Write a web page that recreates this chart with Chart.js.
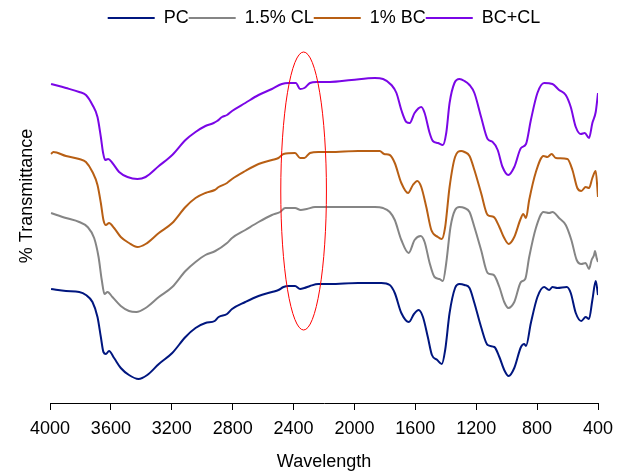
<!doctype html>
<html lang="en">
  <head>
    <meta charset="utf-8">
    <title>FTIR spectra</title>
    <script src="https://cdn.jsdelivr.net/npm/chart.js@4.4.1/dist/chart.umd.min.js"></script>
    <style>
      html, body { margin: 0; padding: 0; background: #fff; }
      #wrap { width: 617px; height: 474px; }
    </style>
  </head>
  <body>
    <div id="wrap"><canvas id="myChart"></canvas></div>
    <script>
      // wavenumber (cm-1) and offset transmittance (arbitrary units)
      const pcWave = [3993,3895,3808,3764,3721,3688,3666,3649,3633,3612,3579,3535,3481,3419,3361,3285,3197,3110,3044,2979,2918,2892,2837,2804,2717,2630,2542,2499,2466,2434,2390,2357,2329,2292,2237,2161,1976,1823,1768,1735,1692,1642,1609,1578,1550,1518,1491,1456,1426,1404,1375,1339,1310,1277,1244,1212,1168,1125,1081,1048,1016,987,950,906,885,873,841,798,754,721,699,667,605,579,546,510,481,459,437,415,400];
      const pcT = [114,112,111,108,101,86,66,51,49,52,45,35,28,24,28,39,50,66,75,80,82,86,89,94,101,107,111,113,116,117,117,114,115,117,119,119,120,120,118,110,90,81,89,93,86,66,48,43,39,53,90,115,119,118,115,100,76,58,56,46,33,27,35,56,59,57,80,106,116,113,116,115,116,110,90,82,86,84,103,122,108];

      const clWave = [3993,3895,3808,3753,3710,3681,3660,3642,3622,3590,3535,3481,3433,3372,3285,3197,3110,3044,2979,2914,2837,2804,2717,2630,2542,2488,2455,2390,2353,2313,2259,2161,1866,1812,1768,1735,1692,1644,1605,1565,1539,1506,1474,1441,1419,1397,1369,1339,1310,1277,1244,1212,1168,1125,1085,1048,1016,989,950,906,878,852,808,758,721,699,656,612,575,540,510,481,459,442,426,420,409,400];
      const clT = [190,185,181,176,165,146,123,109,111,106,97,92,91,95,106,116,132,141,148,152,160,165,173,181,188,191,195,195,193,194,196,196,196,195,191,183,163,150,163,167,161,140,126,124,122,140,176,193,196,195,191,176,153,130,128,116,101,95,101,121,124,146,175,191,190,191,185,178,163,143,139,140,134,143,148,152,145,141];

      const bcWave = [3993,3978,3895,3808,3764,3721,3688,3666,3649,3633,3612,3579,3535,3481,3426,3372,3285,3197,3110,3044,2979,2918,2892,2837,2804,2717,2630,2542,2499,2466,2390,2357,2329,2292,2237,2161,1976,1834,1805,1768,1735,1692,1648,1616,1587,1561,1528,1495,1452,1426,1404,1375,1339,1299,1277,1244,1212,1168,1125,1085,1048,1016,987,950,911,891,873,852,808,758,732,705,677,601,568,536,510,481,459,437,415,400];
      const bcT = [249,251,247,244,241,231,218,200,183,178,180,175,166,160,156,159,170,180,196,205,210,213,216,220,224,232,239,243,245,249,250,245,245,250,251,251,252,252,249,248,240,220,210,218,222,216,196,173,166,164,176,216,246,252,251,247,233,210,188,186,176,165,159,166,183,189,185,203,231,247,246,249,245,244,233,215,212,216,215,225,232,206];

      const bcClWave = [3993,3895,3808,3764,3721,3688,3666,3651,3638,3618,3590,3546,3491,3426,3372,3285,3197,3110,3044,2979,2925,2902,2870,2837,2804,2717,2630,2542,2477,2434,2385,2357,2329,2292,2248,2161,2019,1866,1812,1757,1724,1692,1659,1637,1605,1561,1539,1506,1485,1452,1419,1397,1375,1343,1310,1277,1244,1212,1168,1125,1092,1059,1027,989,950,906,873,841,798,754,699,656,612,579,546,513,487,459,437,415,400];
      const bcClT = [319,315,311,308,298,286,266,250,243,244,240,231,226,224,226,237,248,263,271,277,280,282,286,288,292,300,308,314,319,320,320,314,315,320,321,321,323,325,324,318,310,293,281,280,290,296,290,270,262,260,258,270,300,320,324,322,318,310,286,264,261,253,236,228,236,255,259,283,310,320,319,313,308,296,276,269,270,265,280,291,310];

      const seriesNames = ['PC', '1.5% CL', '1% BC', 'BC+CL'];
      const xTicksMin = 400;
      const xTicksMax = 4000;
      const xTickStep = 400;

      // highlighted region (red ellipse), in data units
      const ellipseCenter = [2334, 212];
      const ellipseRadius = [150, 139];

      Chart.defaults.font.family = "'Liberation Sans', Arial, sans-serif";
      Chart.defaults.font.size = 18;
      Chart.defaults.color = '#000';

      const toPoints = (wave, t) => wave.map((w, i) => ({ x: w, y: t[i] }));

      const line = (label, wave, t, color) => ({
        label,
        data: toPoints(wave, t),
        borderColor: color,
        backgroundColor: color,
        borderWidth: 2,
        pointRadius: 0,
        fill: false,
        cubicInterpolationMode: 'monotone'
      });

      const ellipsePlugin = {
        id: 'ellipse',
        afterDatasetsDraw(chart) {
          const { ctx, scales: { x, y } } = chart;
          const cx = x.getPixelForValue(ellipseCenter[0]);
          const cy = y.getPixelForValue(ellipseCenter[1]);
          const rx = Math.abs(x.getPixelForValue(ellipseCenter[0] + ellipseRadius[0]) - cx);
          const ry = Math.abs(y.getPixelForValue(ellipseCenter[1] + ellipseRadius[1]) - cy);
          ctx.save();
          ctx.beginPath();
          ctx.ellipse(cx, cy, rx, ry, 0, 0, Math.PI * 2);
          ctx.strokeStyle = '#ff0000';
          ctx.lineWidth = 1;
          ctx.stroke();
          ctx.restore();
        }
      };

      // y title sits off-centre in the original, so draw it by hand
      const yTitlePlugin = {
        id: 'yTitle',
        afterDraw(chart) {
          const { ctx } = chart;
          ctx.save();
          ctx.translate(27, 196);
          ctx.rotate(-Math.PI / 2);
          ctx.font = "18px 'Liberation Sans', Arial, sans-serif";
          ctx.fillStyle = '#000';
          ctx.textAlign = 'center';
          ctx.textBaseline = 'middle';
          ctx.fillText('% Transmittance', 0, 0);
          ctx.restore();
        }
      };

      new Chart(document.getElementById('myChart'), {
        type: 'line',
        data: {
          datasets: [
            line(seriesNames[0], pcWave, pcT, '#00167f'),
            line(seriesNames[1], clWave, clT, '#858585'),
            line(seriesNames[2], bcWave, bcT, '#b85f14'),
            line(seriesNames[3], bcClWave, bcClT, '#7a06e6')
          ]
        },
        options: {
          responsive: true,
          maintainAspectRatio: false,
          animation: false,
          layout: { padding: { top: 9, left: 50, right: 19, bottom: 0 } },
          plugins: {
            tooltip: { enabled: false },
            legend: {
              position: 'top',
              fullSize: false,
              labels: {
                usePointStyle: true,
                pointStyle: 'line',
                pointStyleWidth: 47,
                padding: 0,
                color: '#000',
                font: { size: 18 }
              }
            }
          },
          scales: {
            x: {
              type: 'linear',
              reverse: true,
              min: xTicksMin,
              max: xTicksMax,
              // end labels may hang into the page margin
              afterFit: (scale) => { scale.paddingLeft = 0; scale.paddingRight = 0; },
              border: { display: true, color: '#000', width: 1 },
              grid: { drawOnChartArea: false, drawTicks: true, tickLength: 7, color: '#000' },
              ticks: {
                stepSize: xTickStep,
                padding: 8,
                maxRotation: 0,
                autoSkip: false,
                color: '#000',
                callback: (v) => String(v)
              },
              title: {
                display: true,
                text: 'Wavelength',
                color: '#000',
                padding: { top: 3.3, bottom: 1.5 }
              }
            },
            y: {
              display: false,
              min: 0,
              max: 366
            }
          }
        },
        plugins: [ellipsePlugin, yTitlePlugin]
      });
    </script>
  </body>
</html>
